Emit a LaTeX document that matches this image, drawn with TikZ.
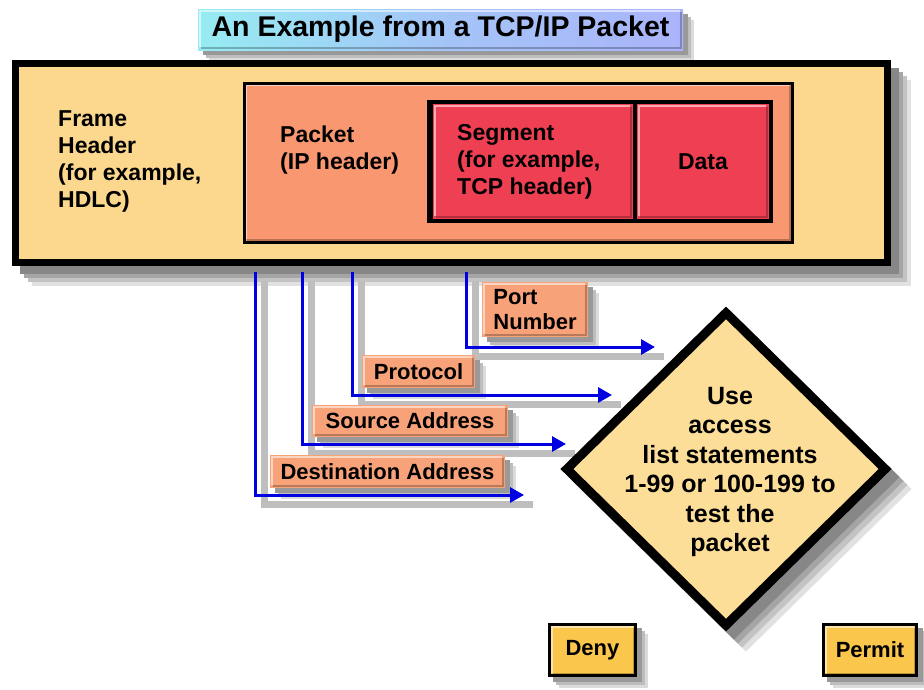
\documentclass[tikz,border=0pt]{standalone}
\usepackage{fontspec}
\setmainfont{Liberation Sans}
\usetikzlibrary{shapes.geometric,arrows.meta}

\definecolor{frameyel}{RGB}{252,216,142}
\definecolor{pktsalmon}{RGB}{249,152,112}
\definecolor{segred}{RGB}{238,64,82}
\definecolor{tagsalmon}{RGB}{248,162,122}
\definecolor{diafill}{RGB}{252,222,152}
\definecolor{btngold}{RGB}{250,198,76}
\definecolor{titlecyan}{RGB}{150,236,242}
\definecolor{titlelav}{RGB}{170,180,250}
\definecolor{linkblue}{RGB}{0,0,225}
\definecolor{shadowgray}{RGB}{190,190,190}
\definecolor{shadeA}{RGB}{225,225,225}
\definecolor{shadeB}{RGB}{195,195,195}
\definecolor{shadeC}{RGB}{165,165,165}
\definecolor{shadeD}{RGB}{135,135,135}

\pgfdeclarelayer{shadows}
\pgfsetlayers{shadows,main}

\tikzset{
  bevel/.style={path picture={
      \draw[white,opacity=.55,line width=2pt]
        ([shift={(2pt,3pt)}]path picture bounding box.south west)
        -- ([shift={(2pt,-2pt)}]path picture bounding box.north west)
        -- ([shift={(-3pt,-2pt)}]path picture bounding box.north east);
      \draw[black,opacity=.25,line width=2pt]
        ([shift={(3pt,2pt)}]path picture bounding box.south west)
        -- ([shift={(-2pt,2pt)}]path picture bounding box.south east)
        -- ([shift={(-2pt,-3pt)}]path picture bounding box.north east);}},
  block/.style={rectangle,inner sep=0pt,draw=black,bevel},
  txt/.style={font=\bfseries\fontsize{23}{27}\selectfont,align=left,inner sep=0pt},
  tag/.style={block,draw=none,fill=tagsalmon,
      font=\bfseries\fontsize{22}{25}\selectfont,align=left},
  btn/.style={block,line width=3.5pt,fill=btngold,
      font=\bfseries\fontsize{22}{25}\selectfont},
  link/.style={linkblue,line width=3pt,-{Triangle[length=14pt,width=15pt]}},
  linkshadow/.style={shadowgray,line width=7pt}
}

\begin{document}
\begin{tikzpicture}[x=1pt,y=-1pt]
\useasboundingbox (0,0) rectangle (924,689);

% title banner
\node[rectangle,inner sep=0pt,minimum width=485pt,minimum height=41pt,
  left color=titlecyan,right color=titlelav,middle color=titlelav!70!titlecyan,
  bevel,font=\bfseries\fontsize{28.5}{31}\selectfont]
  (title) at (440.5,29.5) {An Example from a TCP/IP Packet};

% frame with nested packet, segment and data
\node[block,line width=7pt,fill=frameyel,
  minimum width=872pt,minimum height=199pt] (frame) at (451,162.5) {};
\node[block,line width=3pt,fill=pktsalmon,
  minimum width=548pt,minimum height=159pt] (packet) at (518,162.5) {};
\node[rectangle,inner sep=0pt,fill=black,
  minimum width=346pt,minimum height=123pt] (segrow) at (600,161.5) {};
\node[block,draw=none,fill=segred,
  minimum width=200pt,minimum height=115pt] (segment) at (532.5,161.5) {};
\node[block,draw=none,fill=segred,
  minimum width=132pt,minimum height=115pt,txt] (data) at (703,161.5) {Data};

\node[txt,anchor=west] (frametext) at (58,161)
  {Frame\\Header\\(for example,\\HDLC)};
\node[txt,anchor=west] (packettext) at (280,150) {Packet\\(IP header)};
\node[txt,anchor=west] (segtext) at (457,162)
  {Segment\\(for example,\\TCP header)};

% decision diamond
\node[diamond,inner sep=0pt,draw=black,line width=9pt,fill=diafill,
  minimum width=322pt,minimum height=316pt] (acl) at (726,469) {};
\node[font=\bfseries\fontsize{25}{29.5}\selectfont,align=center,inner sep=0pt]
  (acltext) at (730,472)
  {Use\\access\\list statements\\1-99 or 100-199 to\\test the\\packet};

% field taps below the frame
\coordinate (portA) at (466,272);
\coordinate (portB) at (655,347);
\coordinate (protoA) at (352,272);
\coordinate (protoB) at (612,395);
\coordinate (srcA) at (302,272);
\coordinate (srcB) at (566,444);
\coordinate (dstA) at (255,272);
\coordinate (dstB) at (524,495);

\draw[link] (portA) |- (portB);
\draw[link] (protoA) |- (protoB);
\draw[link] (srcA) |- (srcB);
\draw[link] (dstA) |- (dstB);

\node[tag,minimum width=106pt,minimum height=55pt] (port) at (535,309.5)
  {Port\\Number};
\node[tag,minimum width=113pt,minimum height=33pt] (proto) at (418.5,371.5)
  {Protocol};
\node[tag,minimum width=196pt,minimum height=32pt] (src) at (410,421)
  {Source Address};
\node[tag,minimum width=235pt,minimum height=33pt] (dst) at (387.5,471.5)
  {Destination Address};

% outcomes
\node[btn,minimum width=86pt,minimum height=51pt] (deny) at (592.5,650) {Deny};
\node[btn,minimum width=93pt,minimum height=51pt] (permit) at (870,650) {Permit};

% paper and cast shadows, all beneath the drawing: paper first, then far,
% light shadow bands before near, dark ones
\begin{pgfonlayer}{shadows}
  \fill[white] (0,0) rectangle (924,689);

  \fill[shadeA] (31.5,79.5) rectangle (910.5,285.5);
  \fill[shadeB] (27.5,75.5) rectangle (906.5,281.5);
  \fill[shadeC] (23.5,71.5) rectangle (902.5,277.5);
  \fill[shadeD] (19.5,67.5) rectangle (898.5,273.5);

  \fill[shadeA] (746,326.5) -- (911.5,489) -- (746,651.5) -- (580.5,489) -- cycle;
  \fill[shadeB] (742,322.5) -- (907.5,485) -- (742,647.5) -- (576.5,485) -- cycle;
  \fill[shadeC] (738,318.5) -- (903.5,481) -- (738,643.5) -- (572.5,481) -- cycle;
  \fill[shadeD] (734,314.5) -- (899.5,477) -- (734,639.5) -- (568.5,477) -- cycle;

  \foreach \n in {title,port,proto,src,dst,deny,permit}
    \foreach \off/\tone in {11/14,8/26,5/40}
      \fill[black!\tone] ([shift={(\off pt,-\off pt)}]\n.south west)
        rectangle ([shift={(\off pt,-\off pt)}]\n.north east);
  \foreach \a/\b in {portA/portB,protoA/protoB,srcA/srcB,dstA/dstB}
    \draw[linkshadow] ([shift={(9pt,-9pt)}]\a) |- ([shift={(9pt,-9pt)}]\b);
\end{pgfonlayer}
\end{tikzpicture}
\end{document}
